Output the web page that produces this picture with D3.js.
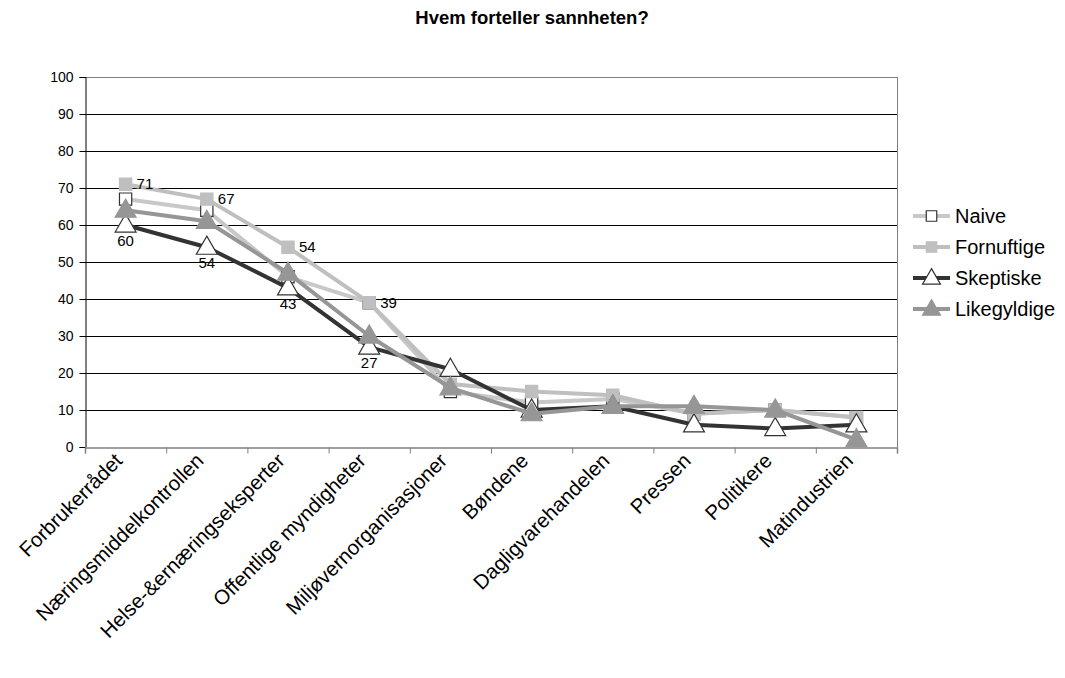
<!DOCTYPE html>
<html><head><meta charset="utf-8">
<script src="https://cdn.jsdelivr.net/npm/d3@7"></script>
<style>body{margin:0;background:#fff;font-family:"Liberation Sans",Arial,sans-serif;}</style>
</head><body><svg id="c" width="1065" height="678"></svg>
<script>
const title = "Hvem forteller sannheten?";
const categories = ["Forbrukerrådet","Næringsmiddelkontrollen","Helse-&ernæringseksperter","Offentlige myndigheter","Miljøvernorganisasjoner","Bøndene","Dagligvarehandelen","Pressen","Politikere","Matindustrien"];
const seriesNames = ["Naive","Fornuftige","Skeptiske","Likegyldige"];
const naive       = [67, 64, 46, 39, 15, 12, 13, 9, 10, 8];
const fornuftige  = [71, 67, 54, 39, 17, 15, 14, 9, 10, 8];
const skeptiske   = [60, 54, 43, 27, 21, 10, 11, 6, 5, 6];
const likegyldige = [64, 61, 47, 30, 16, 9, 11, 11, 10, 2];
const yTicks = [0,10,20,30,40,50,60,70,80,90,100];
const labelledFornuftige = [0,1,2,3];
const labelledSkeptiske = [0,1,2,3];

const svg = d3.select("#c");
const m = {l:85, r:897, t:77, b:447};
const x = d3.scaleBand().domain(categories).range([m.l, m.r]);
const y = d3.scaleLinear().domain([0,100]).range([m.b, m.t]);
const font = "'Liberation Sans', Arial, sans-serif";

svg.append("text").attr("x",532).attr("y",24).attr("text-anchor","middle")
  .attr("font-family",font).attr("font-weight","bold").attr("font-size",18.5).text(title);

// gridlines
svg.append("g").selectAll("line").data(yTicks.filter(d=>d>0)).join("line")
  .attr("x1",m.l).attr("x2",m.r).attr("y1",d=>y(d)+0.5).attr("y2",d=>y(d)+0.5)
  .attr("stroke",d=>d===100?"#808080":"#000").attr("stroke-width",1);
svg.append("line").attr("x1",m.r+0.5).attr("x2",m.r+0.5).attr("y1",m.t).attr("y2",m.b)
  .attr("stroke","#808080");

// y axis
const ya = svg.append("g").attr("transform",`translate(${m.l+0.5},0)`)
  .call(d3.axisLeft(y).tickValues(yTicks).tickSize(6).tickPadding(6));
ya.select(".domain").attr("stroke","#000");
ya.selectAll("text").attr("font-family",font).attr("font-size",14).attr("fill","#000");
ya.selectAll("line").attr("stroke","#000");

// x axis
const xs = d3.scaleLinear().domain([0,categories.length]).range([m.l,m.r]);
const xa = svg.append("g").attr("transform",`translate(0,${m.b+0.5})`)
  .call(d3.axisBottom(xs).tickValues(d3.range(categories.length+1)).tickSize(6).tickFormat(""));
xa.select(".domain").attr("stroke","#808080").attr("stroke-width",1.5);
xa.selectAll("line").attr("stroke","#808080");

svg.append("g").selectAll("text").data(categories).join("text")
  .attr("transform",d=>`translate(${x(d)+x.bandwidth()/2-2},${m.b+15}) rotate(-45)`)
  .attr("text-anchor","end").attr("font-family",font).attr("font-size",20.5).attr("fill","#000")
  .text(d=>d);

const series = [
  {name:seriesNames[0], values:naive, line:"#c8c8c8", shape:"square", fill:"#fff", stroke:"#333"},
  {name:seriesNames[1], values:fornuftige, line:"#bfbfbf", shape:"square", fill:"#bfbfbf", stroke:"#bfbfbf"},
  {name:seriesNames[2], values:skeptiske, line:"#333333", shape:"triangle", fill:"#fff", stroke:"#333"},
  {name:seriesNames[3], values:likegyldige, line:"#969696", shape:"triangle", fill:"#969696", stroke:"#969696"}
];
const sym = s => d3.symbol().type(s.shape==="square"?d3.symbolSquare:d3.symbolTriangle)
  .size(s.shape==="square"?150:190)();
const line = d3.line().x((d,i)=>x(categories[i])+x.bandwidth()/2).y(d=>y(d));

series.forEach(s=>{
  const g = svg.append("g");
  g.append("path").datum(s.values).attr("d",line).attr("fill","none")
    .attr("stroke",s.line).attr("stroke-width",4).attr("stroke-linejoin","round");
  g.selectAll("path.m").data(s.values).join("path").attr("class","m")
    .attr("d",sym(s))
    .attr("transform",(d,i)=>`translate(${x(categories[i])+x.bandwidth()/2},${y(d)+(s.shape==="triangle"?1:0)})`)
    .attr("fill",s.fill).attr("stroke",s.stroke).attr("stroke-width",1.2);
});

// data labels
svg.append("g").selectAll("text").data(labelledFornuftige).join("text")
  .attr("x",i=>x(categories[i])+x.bandwidth()/2+11).attr("y",i=>y(fornuftige[i])+5)
  .attr("font-family",font).attr("font-size",15).text(i=>fornuftige[i]);
svg.append("g").selectAll("text").data(labelledSkeptiske).join("text")
  .attr("x",i=>x(categories[i])+x.bandwidth()/2).attr("y",i=>y(skeptiske[i])+21)
  .attr("text-anchor","middle").attr("font-family",font).attr("font-size",15).text(i=>skeptiske[i]);

// legend
const lg = svg.append("g").attr("transform","translate(913,216)");
series.forEach((s,i)=>{
  const r = lg.append("g").attr("transform",`translate(0,${i*31})`);
  r.append("line").attr("x1",0).attr("x2",37).attr("stroke",s.line).attr("stroke-width",4);
  r.append("path").attr("d",d3.symbol().type(s.shape==="square"?d3.symbolSquare:d3.symbolTriangle).size(s.shape==="square"?110:140)())
    .attr("transform",`translate(18.5,${s.shape==="triangle"?1:0})`)
    .attr("fill",s.fill).attr("stroke",s.stroke).attr("stroke-width",1.2);
  r.append("text").attr("x",42).attr("y",7).attr("font-family",font).attr("font-size",20).text(s.name);
});
</script></body></html>
